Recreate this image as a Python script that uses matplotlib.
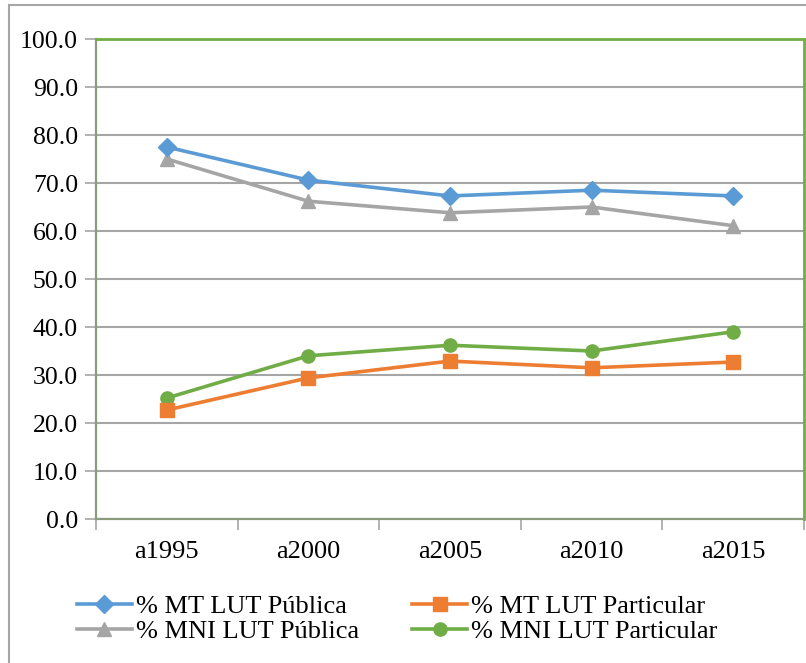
import matplotlib.pyplot as plt
from matplotlib.patches import Rectangle

anos = ['a1995', 'a2000', 'a2005', 'a2010', 'a2015']
mt_publica = [77.5, 70.6, 67.3, 68.5, 67.3]
mt_particular = [22.7, 29.4, 32.9, 31.5, 32.7]
mni_publica = [75.0, 66.2, 63.8, 65.0, 61.1]
mni_particular = [25.2, 34.0, 36.2, 35.0, 39.0]

plt.rcParams['font.family'] = ['Liberation Serif', 'DejaVu Serif']

fig = plt.figure(figsize=(8.06, 6.63), dpi=100)
ax = fig.add_axes([96 / 806, 1 - 519 / 663, (804 - 96) / 806, (519 - 39) / 663])

x = list(range(len(anos)))
l1, = ax.plot(x, mt_publica, color='#5b9bd5', lw=2.6, marker='D', ms=9.5, label='% MT LUT Pública', zorder=4)
l2, = ax.plot(x, mt_particular, color='#ed7d31', lw=2.6, marker='s', ms=9.5, label='% MT LUT Particular', zorder=4)
l3, = ax.plot(x, mni_publica, color='#a5a5a5', lw=2.6, marker='^', ms=10.5, label='% MNI LUT Pública', zorder=3)
l4, = ax.plot(x, mni_particular, color='#70ad47', lw=2.6, marker='o', ms=9.5, label='% MNI LUT Particular', zorder=3)

ax.set_xlim(-0.5, 4.5)
ax.set_ylim(0, 100)
ax.set_yticks(range(0, 101, 10))
ax.set_yticklabels([f'{v:.1f}' for v in range(0, 101, 10)], fontsize=18.5)
ax.set_xticks(x)
ax.set_xticklabels(anos, fontsize=19)
ax.tick_params(axis='x', length=0, pad=16)
ax.tick_params(axis='y', length=8, width=1.2, color='#a6a6a6', pad=5)
ax.set_xticks([i - 0.5 for i in range(6)], minor=True)
ax.tick_params(axis='x', which='minor', length=8, width=1.2, color='#a6a6a6', direction='out')
ax.grid(axis='y', color='#a6a6a6', lw=1.5)
ax.set_axisbelow(True)

for s in ['top', 'right']:
    ax.spines[s].set_color('#70ad47')
    ax.spines[s].set_linewidth(2)
ax.spines['left'].set_color('#8a9c7c')
ax.spines['left'].set_linewidth(1.6)
ax.spines['bottom'].set_color('#8a9c7c')
ax.spines['bottom'].set_linewidth(1.6)

# ordem da legenda igual ao Excel (linha por linha)
handles = [l1, l3, l2, l4]
fig.legend(handles, [h.get_label() for h in handles], ncol=2, loc='upper left',
           bbox_to_anchor=(66 / 806, 1 - 584 / 663),
           frameon=False, fontsize=19, handlelength=2.1, handletextpad=0.15,
           columnspacing=2.0, labelspacing=0.07, borderaxespad=0)

# borda externa do grafico
fig.add_artist(Rectangle((9 / 806, -0.01), 1.0, 1 - 5 / 663 + 0.01, transform=fig.transFigure,
                         fill=False, edgecolor='#a6a6a6', lw=1.5))

fig.savefig('out.png', dpi=100)
